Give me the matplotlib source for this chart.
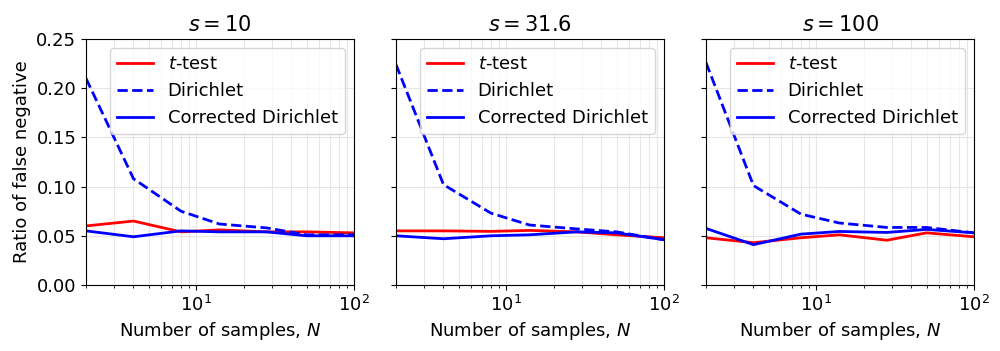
import numpy as np
import matplotlib
matplotlib.use('Agg')
import matplotlib.pyplot as plt

# sample sizes (log-spaced from 2 to 100)
n_samples = [2, 4, 8, 14, 28, 50, 100]
titles = ['$s=10$', '$s=31.6$', '$s=100$']

# false negative ratios per panel
ttest = [
    [0.060, 0.065, 0.054, 0.056, 0.054, 0.054, 0.053],
    [0.055, 0.055, 0.0545, 0.0555, 0.054, 0.051, 0.048],
    [0.048, 0.043, 0.048, 0.051, 0.0455, 0.053, 0.049],
]
dirichlet = [
    [0.210, 0.108, 0.075, 0.062, 0.058, 0.051, 0.051],
    [0.224, 0.102, 0.073, 0.061, 0.057, 0.054, 0.046],
    [0.226, 0.101, 0.072, 0.063, 0.0585, 0.0585, 0.053],
]
corrected = [
    [0.055, 0.049, 0.055, 0.054, 0.054, 0.050, 0.050],
    [0.050, 0.047, 0.050, 0.051, 0.054, 0.053, 0.046],
    [0.0575, 0.041, 0.0517, 0.0544, 0.0534, 0.0565, 0.053],
]

plt.rcParams.update({'font.size': 13, 'font.family': 'DejaVu Sans'})
fig = plt.figure(figsize=(10, 3.51), dpi=100)

lefts = [0.086, 0.396, 0.706]
axes = []
for i in range(3):
    ax = fig.add_axes([lefts[i], 0.188, 0.268, 0.701])
    axes.append(ax)
    ax.plot(n_samples, ttest[i], color='red', lw=2, label='$t$-test')
    ax.plot(n_samples, dirichlet[i], color='blue', lw=2, ls='--', label='Dirichlet')
    ax.plot(n_samples, corrected[i], color='blue', lw=2, label='Corrected Dirichlet')
    ax.set_xscale('log')
    ax.set_xlim(2, 100)
    ax.set_ylim(0, 0.25)
    ax.set_yticks([0, 0.05, 0.10, 0.15, 0.20, 0.25])
    ax.grid(True, which='major', color='#e6e6e6', lw=0.8)
    ax.grid(True, which='minor', axis='x', color='#e6e6e6', lw=0.8)
    ax.set_axisbelow(True)
    ax.set_title(titles[i], fontsize=15)
    ax.set_xlabel('Number of samples, $N$')
    ax.legend(loc='upper right', fontsize=13, framealpha=0.8, edgecolor='#cccccc')
    if i == 0:
        ax.set_ylabel('Ratio of false negative')
        ax.set_yticklabels(['0.00', '0.05', '0.10', '0.15', '0.20', '0.25'])
    else:
        ax.set_yticklabels([])

fig.savefig('out.png', dpi=100)
